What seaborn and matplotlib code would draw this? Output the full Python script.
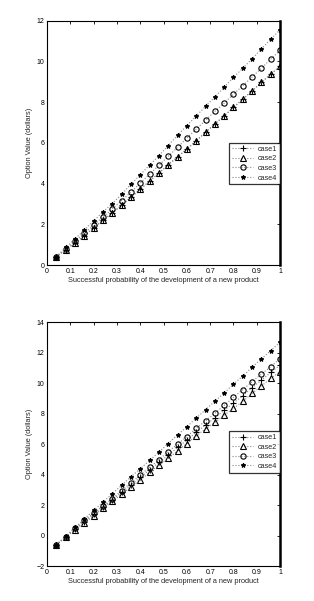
import numpy as np
import pandas as pd
import seaborn as sns
import matplotlib
matplotlib.use('Agg')
import matplotlib.pyplot as plt

# success probability of the new product
prob = [0.04, 0.08, 0.12, 0.16, 0.20, 0.24, 0.28, 0.32, 0.36, 0.40, 0.44, 0.48, 0.52,
        0.56, 0.60, 0.64, 0.68, 0.72, 0.76, 0.80, 0.84, 0.88, 0.92, 0.96, 1.00]
cases = ['case1', 'case2', 'case3', 'case4']

# upper panel
top_case1 = [0.41, 0.75, 1.09, 1.44, 1.83, 2.20, 2.56, 2.94, 3.33, 3.72, 4.13, 4.52, 4.93,
             5.31, 5.70, 6.10, 6.52, 6.93, 7.33, 7.74, 8.15, 8.56, 8.97, 9.38, 9.76]
top_case2 = [0.41, 0.75, 1.09, 1.44, 1.83, 2.20, 2.56, 2.94, 3.33, 3.72, 4.13, 4.52, 4.93,
             5.31, 5.70, 6.10, 6.52, 6.93, 7.33, 7.74, 8.15, 8.56, 8.97, 9.38, 9.76]
top_case3 = [0.41, 0.80, 1.18, 1.57, 1.96, 2.36, 2.76, 3.17, 3.58, 4.03, 4.46, 4.90, 5.34,
             5.78, 6.24, 6.68, 7.11, 7.55, 7.95, 8.39, 8.81, 9.24, 9.67, 10.11, 10.54]
top_case4 = [0.41, 0.87, 1.29, 1.71, 2.17, 2.61, 3.02, 3.48, 3.97, 4.44, 4.91, 5.37, 5.87,
             6.37, 6.85, 7.32, 7.80, 8.26, 8.73, 9.22, 9.67, 10.13, 10.62, 11.09, 11.56]

# lower panel
bot_case1 = [-0.59, -0.08, 0.43, 0.92, 1.40, 1.88, 2.34, 2.84, 3.33, 3.82, 4.32, 4.80, 5.28,
             5.78, 6.27, 6.78, 7.26, 7.72, 8.22, 8.70, 9.18, 9.70, 10.20, 10.70, 11.18]
bot_case2 = [-0.59, -0.09, 0.39, 0.83, 1.30, 1.80, 2.24, 2.72, 3.17, 3.65, 4.15, 4.63, 5.07,
             5.57, 6.04, 6.54, 7.00, 7.42, 7.90, 8.34, 8.80, 9.33, 9.81, 10.32, 10.75]
bot_case3 = [-0.59, -0.08, 0.48, 1.00, 1.48, 1.95, 2.43, 2.96, 3.48, 3.98, 4.48, 4.98, 5.50,
             6.00, 6.50, 7.03, 7.53, 8.03, 8.54, 9.07, 9.57, 10.10, 10.60, 11.08, 11.61]
bot_case4 = [-0.59, -0.04, 0.55, 1.10, 1.65, 2.20, 2.76, 3.30, 3.86, 4.39, 4.93, 5.48, 6.04,
             6.61, 7.14, 7.71, 8.25, 8.82, 9.35, 9.94, 10.47, 11.04, 11.59, 12.14, 12.68]

x_ticks = [0, 0.1, 0.2, 0.3, 0.4, 0.5, 0.6, 0.7, 0.8, 0.9, 1]
x_ticklabels = ['0', '0.1', '0.2', '0.3', '0.4', '0.5', '0.6', '0.7', '0.8', '0.9', '1']
top_yticks = [0, 2, 4, 6, 8, 10, 12]
bot_yticks = [-2, 0, 2, 4, 6, 8, 10, 12, 14]

sns.set_style('white')
plt.rcParams['font.family'] = ['Liberation Sans', 'DejaVu Sans']

markers = {'case1': dict(marker='+', ms=4, mew=0.8, mfc='black'),
           'case2': dict(marker='^', ms=3.8, mew=0.8, mfc='none'),
           'case3': dict(marker='o', ms=3.8, mew=0.8, mfc='none'),
           'case4': dict(marker='*', ms=3.2, mew=0.8, mfc='black')}

fig = plt.figure(figsize=(3.14, 6.01), dpi=100)
ax1 = fig.add_axes([0.150, 0.559, 0.742, 0.4065])
ax2 = fig.add_axes([0.150, 0.058, 0.742, 0.406])


def draw(ax, series, yticks, ylim, legend_top):
    for name, vals in zip(cases, series):
        df = pd.DataFrame({'p': prob, 'v': vals})
        sns.lineplot(data=df, x='p', y='v', ax=ax, color='#888888', linestyle=':',
                     linewidth=0.8, mec='black', label=name, **markers[name])
    ax.set_xlim(0, 1)
    ax.set_ylim(*ylim)
    ax.set_xticks(x_ticks)
    ax.set_xticklabels(x_ticklabels)
    ax.set_yticks(yticks)
    ax.tick_params(direction='in', length=2.5, width=0.6, labelsize=5, pad=2,
                   top=True, right=True, colors='black')
    for s in ax.spines.values():
        s.set_color('black')
        s.set_linewidth(0.8)
    ax.spines['right'].set_linewidth(1.8)
    ax.set_xlabel('Successful probability of the development of a new product', fontsize=5.3, labelpad=1.5)
    ax.set_ylabel('Option Value (dollars)', fontsize=5.3, labelpad=2.5)
    leg = ax.legend(loc='upper right', bbox_to_anchor=(1.0, legend_top), borderaxespad=0,
                    fontsize=5.2, frameon=True, fancybox=False, handlelength=3,
                    labelspacing=0.35, borderpad=0.4, handletextpad=0.6)
    leg.get_frame().set_edgecolor('black')
    leg.get_frame().set_linewidth(0.9)


draw(ax1, [top_case1, top_case2, top_case3, top_case4], top_yticks, (0, 12), 0.50)
draw(ax2, [bot_case1, bot_case2, bot_case3, bot_case4], bot_yticks, (-2, 14), 0.553)

fig.savefig('out.png', dpi=100)
